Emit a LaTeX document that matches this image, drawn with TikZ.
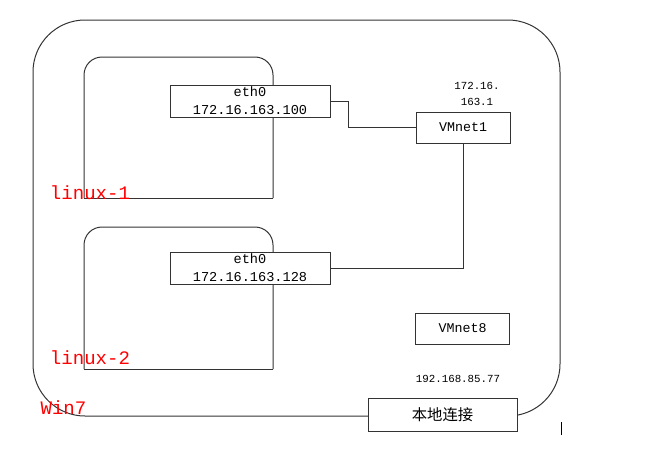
\documentclass[tikz,border=0pt]{standalone}
\usepackage{fontspec}
\setmainfont{Liberation Serif}
\newfontfamily\monof{Liberation Mono}
\newfontfamily\cjk{Noto Sans CJK SC}
\begin{document}
\begin{tikzpicture}[x=0.75pt,y=-0.75pt,
  ln/.style={draw=black!80,line width=0.75pt},
  boxn/.style={ln,fill=white,inner sep=0pt,align=center},
  ethbox/.style={boxn,minimum width=120pt,minimum height=24pt,font=\monof\fontsize{10.2}{13.5}\selectfont},
  vmbox/.style={boxn,minimum width=70.5pt,minimum height=23.25pt,font=\monof\fontsize{10}{12}\selectfont},
  redlbl/.style={text=red,inner sep=0pt,font=\monof\fontsize{14.3}{16}\selectfont},
  iplbl/.style={inner sep=0pt,align=center,font=\monof\fontsize{8.1}{12}\selectfont}]
\useasboundingbox (0,0) rectangle (646,471);
% outer frame (Win7)
\draw[ln,rounded corners=39pt] (33,416) -- (33,20) -- (560,20) -- (560,416) -- cycle;
% linux-1 frame
\draw[ln,rounded corners=13.5pt] (84,198) -- (84,57) -- (273,57) -- (273,198);
\draw[ln] (84,198) -- (273,198);
% linux-2 frame
\draw[ln,rounded corners=13.5pt] (84,369) -- (84,227) -- (273,227) -- (273,369);
\draw[ln] (84,369) -- (273,369);
% boxes
\node[ethbox] (e1) at (250,101) {eth0\\172.16.163.100};
\node[ethbox] (e2) at (250,268) {eth0\\172.16.163.128};
\node[vmbox] (vm1) at (463,127.5) {VMnet1};
\node[vmbox] (vm8) at (462.5,328.5) {VMnet8};
\node[boxn,minimum width=111.75pt,minimum height=24.75pt,font=\cjk\fontsize{11.5}{13}\selectfont] (loc) at (442.5,414.5) {本地连接};
% connectors
\draw[ln] (e1.east) -- ++(18,0) |- (vm1.west);
\draw[ln] (vm1.south) |- (e2.east);
% labels
\node[redlbl] (l1) at (90,193) {linux-1};
\node[redlbl] (l2) at (90,358) {linux-2};
\node[redlbl] (w7) at (63.5,408) {Win7};
\node[iplbl] (ip1) at (477,94) {172.16.\\163.1};
\node[iplbl] (ip8) at (458,379) {192.168.85.77};
% cursor tick
\draw[black,line width=0.75pt] (561,422) -- (561,435);
\end{tikzpicture}
\end{document}
